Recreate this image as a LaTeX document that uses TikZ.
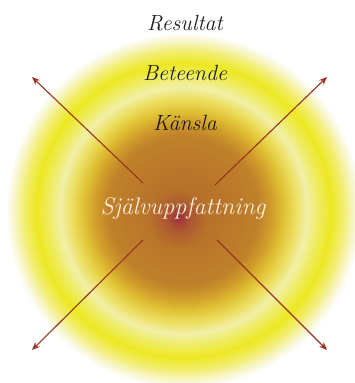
\documentclass[tikz,border=0pt]{standalone}
\usepackage{fontspec}
\usetikzlibrary{arrows.meta}
\definecolor{s0}{HTML}{FFFFFF}
\definecolor{s1}{HTML}{F8F6C8}
\definecolor{s2}{HTML}{F2EE70}
\definecolor{s3}{HTML}{EDE822}
\definecolor{s4}{HTML}{EFEC60}
\definecolor{s5}{HTML}{F2F0A8}
\definecolor{s6}{HTML}{ECDE5C}
\definecolor{s7}{HTML}{E0C034}
\definecolor{s8}{HTML}{D09C2A}
\definecolor{s9}{HTML}{BF802A}
\definecolor{s10}{HTML}{B7722A}
\definecolor{s11}{HTML}{AE5A30}
\definecolor{s12}{HTML}{9E2E3E}
\definecolor{arrowred}{HTML}{9B3222}
\definecolor{cream}{HTML}{F8EEDC}
\definecolor{ink}{HTML}{1E1E1E}
\begin{document}
\begin{tikzpicture}[x=1pt,y=-1pt,
  lbl/.style={font=\fontsize{22}{24}\selectfont\itshape, inner sep=0pt, text=ink},
  arr/.style={draw=arrowred, line width=1.1pt, -{Stealth[length=8pt,width=6.5pt]}}]
\useasboundingbox (0,0) rectangle (355,383);
\fill[white] (0,0) rectangle (355,383);
\coordinate (C) at (184,211);
\coordinate (S) at (179,218);
\begin{scope}
\clip (0,0) rectangle (355,383);
\foreach \ra/\rb/\ca/\cb in {178/170/s0/s1, 170/160/s1/s2, 160/148/s2/s3, 148/136/s3/s4, 136/124/s4/s5, 124/112/s5/s6, 112/100/s6/s7, 100/88/s7/s8, 88/75/s8/s9, 75/30/s9/s10}{
  \foreach \i in {0,...,11}{
    \pgfmathsetmacro\rr{\ra-(\ra-\rb)*\i/12}
    \pgfmathtruncatemacro\pp{100*\i/12}
    \fill[\cb!\pp!\ca] (C) circle (\rr);
  }
}
\foreach \ra/\rb/\ca/\cb in {30/14/s10/s11, 14/0.5/s11/s12}{
  \foreach \i in {0,...,11}{
    \pgfmathsetmacro\rr{\ra-(\ra-\rb)*\i/12}
    \pgfmathtruncatemacro\pp{100*\i/12}
    \fill[\cb!\pp!\ca] (S) circle (\rr);
  }
}
\end{scope}
\coordinate (ulS) at (143,183); \coordinate (ulE) at (32,77);
\coordinate (urS) at (215,185); \coordinate (urE) at (327,77);
\coordinate (llS) at (143,240); \coordinate (llE) at (32,350);
\coordinate (lrS) at (217,240); \coordinate (lrE) at (327,350);
\draw[arr] (ulS) -- (ulE);
\draw[arr] (urS) -- (urE);
\draw[arr] (llS) -- (llE);
\draw[arr] (lrS) -- (lrE);
\node[lbl] (res) at (185,23) {Resultat};
\node[lbl] (bet) at (185,73) {Beteende};
\node[lbl] (kan) at (185,123) {Känsla};
\node[lbl, text=cream, font=\fontsize{24}{26}\selectfont\itshape] (sjalv) at (183,208) {Självuppfattning};
\end{tikzpicture}
\end{document}
